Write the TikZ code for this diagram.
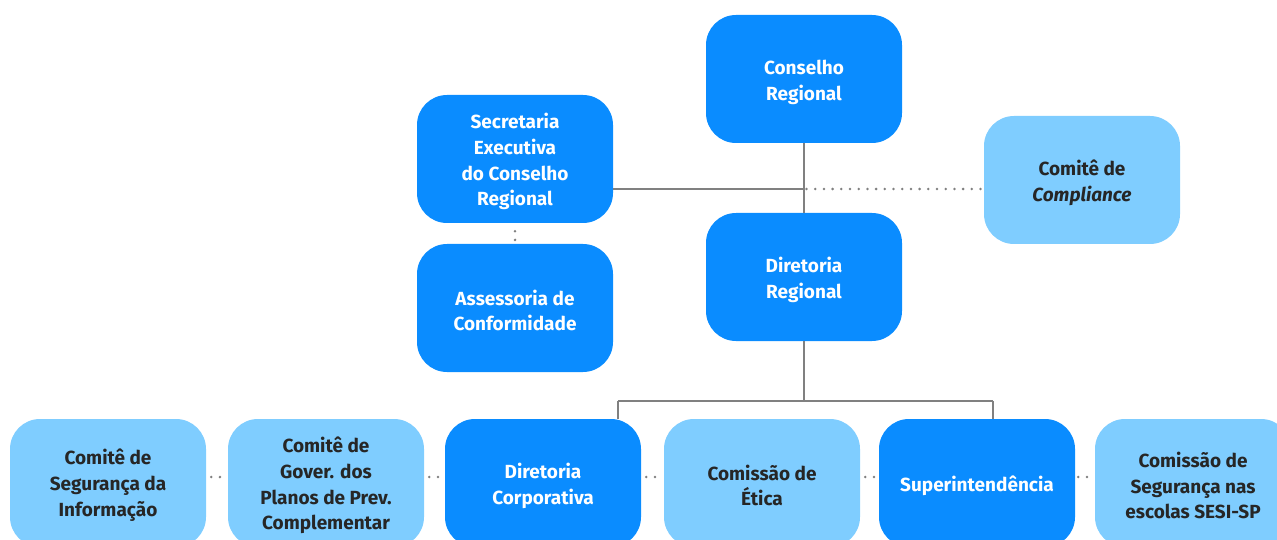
\documentclass[tikz,border=0pt]{standalone}
\usepackage{fontspec}
\setmainfont{Fira Sans}
\definecolor{dk}{HTML}{0A8CFF}
\definecolor{lt}{HTML}{7FCDFF}
\definecolor{ln}{HTML}{808080}
\definecolor{tx}{HTML}{262626}
\newcommand\tp{\rule{0pt}{20.5pt}}
\begin{document}
\begin{tikzpicture}[x=1pt,y=-1pt,
  box/.style={rounded corners=30pt,minimum width=196pt,minimum height=128pt,inner sep=0pt,align=center,font=\fontsize{19}{25.8}\selectfont\bfseries},
  dbox/.style={box,fill=dk,text=white},
  lbox/.style={box,fill=lt,text=tx},
  conn/.style={draw=ln,line width=1.3pt},
  dots/.style={draw=ln,line width=2.8pt,dash pattern=on 0pt off 8.7pt,line cap=round}]
\useasboundingbox (0,0) rectangle (1277,540);
\node[dbox] (cr) at (804,79) {\tp Conselho\\Regional};
\node[dbox] (se) at (515,159) {\tp Secretaria\\Executiva\\do Conselho\\Regional};
\node[lbox] (cc) at (1082,180) {\tp Comitê de\\\itshape Compliance};
\node[dbox] (dr) at (804,277) {\tp Diretoria\\Regional};
\node[dbox] (as) at (515,308) {\tp Assessoria de\\Conformidade};
\node[lbox] (b1) at (108,483) {\tp Comitê de\\Segurança da\\Informação};
\node[lbox] (b2) at (326,483) {\tp Comitê de\\Gover. dos\\Planos de Prev.\\Complementar};
\node[dbox] (b3) at (543,483) {\tp Diretoria\\Corporativa};
\node[lbox] (b4) at (762,483) {\tp Comissão de\\Ética};
\node[dbox] (b5) at (977,483) {\tp Superintendência};
\node[lbox] (b6) at (1193,483) {\tp Comissão de\\Segurança nas\\escolas SESI-SP};
\coordinate (j1) at (804,189);
\coordinate (j2) at (804,401);
\coordinate (l3) at (618,401);
\coordinate (l5) at (993,401);
\draw[conn] (cr.south) -- (dr.north);
\draw[conn] (se.east |- j1) -- (j1);
\draw[dots] (j1) ++(2.5,0) -- (cc.west |- j1);
\draw[conn] (dr.south) -- (j2);
\draw[conn] (l3) -- (l5);
\draw[conn] (l3) -- (l3 |- b3.north);
\draw[conn] (l5) -- (l5 |- b5.north);
\draw[dots] ([yshift=-8pt]se.south) -- ([yshift=2.5pt]as.north);
\draw[dots] ([xshift=5pt,yshift=6pt]b1.east) -- ([xshift=-4pt,yshift=6pt]b2.west);
\draw[dots] ([xshift=5pt,yshift=6pt]b2.east) -- ([xshift=-4pt,yshift=6pt]b3.west);
\draw[dots] ([xshift=5pt,yshift=6pt]b3.east) -- ([xshift=-4pt,yshift=6pt]b4.west);
\draw[dots] ([xshift=5pt,yshift=6pt]b4.east) -- ([xshift=-4pt,yshift=6pt]b5.west);
\draw[dots] ([xshift=3pt,yshift=6pt]b5.east) -- ([xshift=-2pt,yshift=6pt]b6.west);
\end{tikzpicture}
\end{document}
